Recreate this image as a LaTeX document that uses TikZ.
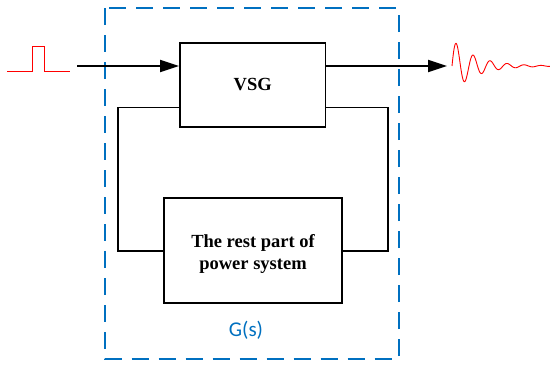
\documentclass[tikz,border=0pt]{standalone}
\usepackage{fontspec}
\setmainfont{Liberation Serif}
\newfontfamily\gsfont{Carlito}
\usetikzlibrary{arrows.meta}
\definecolor{dashblue}{RGB}{0,112,192}
\definecolor{sigred}{RGB}{255,0,0}
\begin{document}
\begin{tikzpicture}[x=1pt,y=-1pt,
  blockbox/.style={draw=black, line width=1.8pt, fill=white, inner sep=0pt},
  conn/.style={line width=1.8pt, black, line cap=rect},
  sigarrow/.style={line width=1.8pt, black, -{Triangle[length=19pt,width=12pt]}},
  signal/.style={sigred, line width=1pt},
  blocktext/.style={font=\fontsize{18.5}{22.6}\selectfont\bfseries, align=center, inner sep=0pt},
  gstext/.style={font=\gsfont\fontsize{21}{24}\selectfont, text=dashblue, inner sep=0pt}]
\useasboundingbox (0,0) rectangle (550,365);
% G(s) boundary
\draw[dashblue, line width=2pt, dash pattern=on 17pt off 10pt] (104.5,8) rectangle (398.5,359);
% blocks
\node[blockbox, minimum width=145.5pt, minimum height=83.5pt, font=\fontsize{18.5}{22.6}\selectfont\bfseries] (vsg) at (252.75,85) {VSG};
\node[blockbox, minimum width=177.7pt, minimum height=105pt] (rest) at (252.85,250.8) {};
\node[blocktext] (restlabel) at (253,253.8) {The rest part of\\power system};
\node[gstext] (gs) at (246,330.4) {G(s)};
% coordinates
\coordinate (inp) at (77,66);
\coordinate (outp) at (447,66);
\coordinate (fbl) at (118.3,107.5);
\coordinate (fbr) at (388.3,107.5);
% connectors
\draw[sigarrow] (inp) -- (inp -| vsg.west);
\draw[sigarrow] (outp -| vsg.east) -- (outp);
\draw[conn] (fbl -| vsg.west) -- (fbl) -- (fbl |- rest.west) -- (rest.west);
\draw[conn] (fbr -| vsg.east) -- (fbr) -- (fbr |- rest.east) -- (rest.east);
% input pulse
\draw[signal] (7,71.7) -- (32.3,71.7) -- (32.3,46.3) -- (44.7,46.3) -- (44.7,71.7) -- (70,71.7);
% output damped oscillation
\draw[signal, line width=0.9pt] plot[domain=0:98, samples=400, smooth] ({452+\x},{66-27*exp(-0.043*\x)*sin(21.1765*\x)});
\end{tikzpicture}
\end{document}
